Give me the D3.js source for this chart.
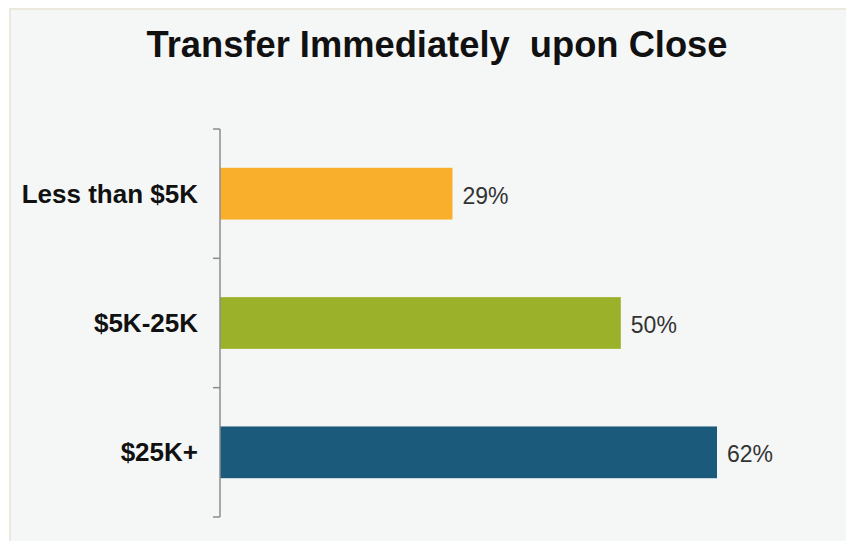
<!DOCTYPE html>
<html>
<head>
<meta charset="utf-8">
<script src="https://cdn.jsdelivr.net/npm/d3@7"></script>
<style>
  body { margin: 0; background: #ffffff; }
  text { font-family: "Liberation Sans", Arial, sans-serif; }
</style>
</head>
<body>
<div id="chart"></div>
<script>
// Chart data
var categories = ["Less than $5K", "$5K-25K", "$25K+"];
var values = [29, 50, 62];
var barColors = ["#f9ae2c", "#9bb12a", "#1b5a7a"];
var chartTitle = "Transfer Immediately\u00a0 upon Close";

// SVG area dimensions
var svgWidth = 846;
var svgHeight = 541;

var svg = d3.select("#chart")
  .append("svg")
  .attr("width", svgWidth)
  .attr("height", svgHeight);

// Background panel
svg.append("rect")
  .attr("x", 10)
  .attr("y", 9)
  .attr("width", svgWidth)
  .attr("height", svgHeight)
  .attr("fill", "#f5f7f7")
  .attr("stroke", "#ebe8dd")
  .attr("stroke-width", 2);

// Title
svg.append("text")
  .attr("x", 437)
  .attr("y", 57)
  .attr("text-anchor", "middle")
  .style("font-size", "36px")
  .style("font-weight", "bold")
  .attr("textLength", 581)
  .attr("lengthAdjust", "spacingAndGlyphs")
  .attr("fill", "#111")
  .text(chartTitle);

var axisX = 220;

var xScale = d3.scaleLinear()
  .domain([0, 62])
  .range([axisX, 717]);

var yScale = d3.scaleBand()
  .domain(categories)
  .range([129, 517])
  .paddingInner(0.6)
  .paddingOuter(0.3);

// Bars
svg.selectAll(".bar")
  .data(values)
  .enter()
  .append("rect")
  .attr("class", "bar")
  .attr("x", xScale(0))
  .attr("y", (d, i) => yScale(categories[i]))
  .attr("width", d => xScale(d) - xScale(0))
  .attr("height", yScale.bandwidth())
  .attr("fill", (d, i) => barColors[i]);

// Value labels
svg.selectAll(".valueLabel")
  .data(values)
  .enter()
  .append("text")
  .attr("class", "valueLabel")
  .attr("x", d => xScale(d) + 10)
  .attr("y", (d, i) => yScale(categories[i]) + yScale.bandwidth() / 2 + 2)
  .attr("dy", "0.35em")
  .style("font-size", "23px")
  .attr("fill", "#333")
  .text(d => d + "%");

// Left axis with ticks at band boundaries
var step = yScale.step();
var boundaries = d3.range(categories.length + 1).map(i => 129 + i * step);

var axisGroup = svg.append("g");
axisGroup.append("line")
  .attr("x1", axisX).attr("x2", axisX)
  .attr("y1", boundaries[0]).attr("y2", boundaries[boundaries.length - 1])
  .attr("stroke", "#8c8c8c")
  .attr("stroke-width", 1.5);

axisGroup.selectAll(".tick")
  .data(boundaries)
  .enter()
  .append("line")
  .attr("x1", axisX - 7).attr("x2", axisX)
  .attr("y1", d => d).attr("y2", d => d)
  .attr("stroke", "#8c8c8c")
  .attr("stroke-width", 1.5);

// Category labels
svg.selectAll(".catLabel")
  .data(categories)
  .enter()
  .append("text")
  .attr("class", "catLabel")
  .attr("x", 198)
  .attr("y", d => yScale(d) + yScale.bandwidth() / 2)
  .attr("dy", "0.35em")
  .attr("text-anchor", "end")
  .style("font-size", "26px")
  .style("font-weight", "bold")
  .attr("fill", "#111")
  .text(d => d);
</script>
</body>
</html>
